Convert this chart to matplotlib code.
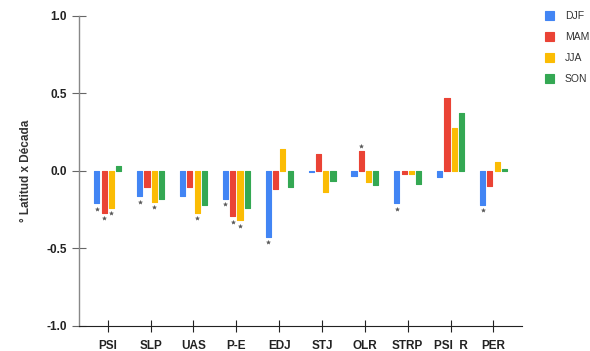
import matplotlib
matplotlib.use("Agg")
import matplotlib.pyplot as plt
import numpy as np

categories = ["PSI", "SLP", "UAS", "P-E", "EDJ", "STJ", "OLR", "STRP", "PSI  R", "PER"]
seasons = ["DJF", "MAM", "JJA", "SON"]
djf = [-0.21, -0.165, -0.165, -0.18, -0.425, -0.01, -0.035, -0.21, -0.04, -0.22]
mam = [-0.27, -0.105, -0.105, -0.295, -0.12, 0.11, 0.125, -0.02, 0.47, -0.10]
jja = [-0.24, -0.20, -0.27, -0.32, 0.14, -0.135, -0.075, -0.02, 0.275, 0.055]
son = [0.03, -0.18, -0.22, -0.24, -0.105, -0.065, -0.095, -0.085, 0.37, 0.01]
# significance flags (stars)
sig_djf = [1, 1, 0, 1, 1, 0, 0, 1, 0, 1]
sig_mam = [1, 0, 0, 1, 0, 0, 1, 0, 0, 0]
sig_jja = [1, 1, 1, 1, 0, 0, 0, 0, 0, 0]
sig_son = [0, 0, 0, 0, 0, 0, 0, 0, 0, 0]
colors = ["#4285F4", "#EA4335", "#FBBC04", "#34A853"]

fig = plt.figure(figsize=(5.9, 3.51), dpi=100)
ax = fig.add_axes([0.134, 0.072, 0.751, 0.883])

x = np.arange(len(categories))
step = 0.17
width = 0.12
series = [djf, mam, jja, son]
sigs = [sig_djf, sig_mam, sig_jja, sig_son]
handles = []
for i, (vals, sg, c, name) in enumerate(zip(series, sigs, colors, seasons)):
    pos = x + (i - 1.5) * step
    b = ax.bar(pos, vals, width=width, color=c, edgecolor=c, linewidth=0.8,
               joinstyle="round", label=name, zorder=3)
    handles.append(b)
    for p, v, s in zip(pos, vals, sg):
        if s:
            yy = v - 0.034 if v < 0 else v + 0.034
            ax.plot(p, yy, marker="*", ms=3, color="#555555", mec="#555555",
                    mew=0.3, zorder=4, ls="none")

ax.set_xlim(-0.67, 9.67)
ax.set_ylim(-1.0, 1.0)
ax.set_yticks([-1.0, -0.5, 0.0, 0.5, 1.0])
ax.set_yticklabels(["-1.0", "-0.5", "0.0", "0.5", "1.0"])
ax.set_xticks(x)
ax.set_xticklabels(categories)

for s in ["top", "right"]:
    ax.spines[s].set_visible(False)
ax.spines["left"].set_color("#888888")
ax.spines["left"].set_linewidth(1.0)
ax.spines["bottom"].set_color("#222222")
ax.spines["bottom"].set_linewidth(0.8)

ax.tick_params(axis="y", direction="inout", length=10, width=0.8, color="#666666",
               labelsize=8.5, labelcolor="#222222", pad=4)
ax.tick_params(axis="x", direction="inout", length=8, width=0.8, color="#222222",
               labelsize=8.5, labelcolor="#222222", pad=6)
for lab in ax.get_xticklabels() + ax.get_yticklabels():
    lab.set_fontweight("bold")
    lab.set_family("Liberation Sans")

ax.set_ylabel("° Latitud x Década", fontsize=8.5, fontweight="bold",
              color="#333333", family="Liberation Sans", labelpad=10)

leg = fig.legend(handles=handles, labels=seasons, loc="upper left",
                 bbox_to_anchor=(0.908, 0.995), frameon=False,
                 handlelength=0.9, handleheight=0.9, handletextpad=1.0,
                 labelspacing=1.05, prop={"family": "Liberation Sans", "size": 7.5})
for t in leg.get_texts():
    t.set_color("#333333")

fig.savefig("out.png", dpi=100)
